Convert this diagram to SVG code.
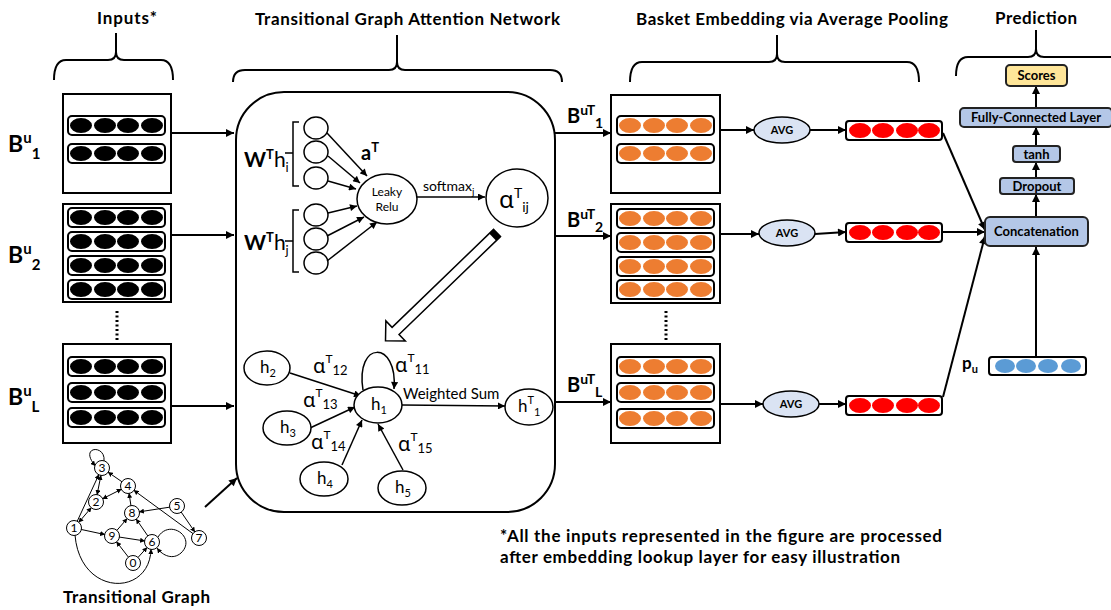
<svg xmlns="http://www.w3.org/2000/svg" xmlns:xlink="http://www.w3.org/1999/xlink" width="1111" height="610" viewBox="0 0 1111 610">
<style>
text{font-family:Lato,"Liberation Sans",sans-serif;fill:#000}
.ti{font-size:17px;font-weight:bold}
.b{font-weight:bold}
.gr{font-family:"Noto Sans","DejaVu Sans",sans-serif}
.ln{stroke:#000;stroke-width:2;fill:none}
.ln15{stroke:#000;stroke-width:1.5;fill:none}
.ln1{stroke:#000;stroke-width:1;fill:none}
.box{fill:#fff;stroke:#000;stroke-width:2}
.row{fill:#fff;stroke:#000;stroke-width:2}
.circ{fill:#fff;stroke:#000;stroke-width:1.5}
.gn{fill:#fff;stroke:#000;stroke-width:1}
.pb{fill:#B4C7E7;stroke:#222;stroke-width:2}
.avg{fill:#DAE3F3;stroke:#000;stroke-width:1.5}
.gt{font-size:12px;text-anchor:middle}
.pt{font-size:13px;font-weight:bold;text-anchor:middle}
</style>
<defs>
<marker id="ah" viewBox="0 0 10 10" refX="10" refY="5" markerWidth="9" markerHeight="8" orient="auto" markerUnits="userSpaceOnUse"><path d="M0,0 L10,5 L0,10 z"/></marker>
<marker id="am" viewBox="0 0 10 10" refX="10" refY="5" markerWidth="8" markerHeight="7" orient="auto" markerUnits="userSpaceOnUse"><path d="M0,0 L10,5 L0,10 z"/></marker>
<marker id="as" viewBox="0 0 10 10" refX="10" refY="5" markerWidth="5" markerHeight="5" orient="auto-start-reverse" markerUnits="userSpaceOnUse"><path d="M0,0 L10,5 L0,10 z"/></marker>
<g id="rowK"><rect class="row" x="0" y="0" width="97" height="19" rx="4"/><g fill="#000"><ellipse cx="13" cy="9.5" rx="11" ry="7.5"/><ellipse cx="37" cy="9.5" rx="11" ry="7.5"/><ellipse cx="60" cy="9.5" rx="11" ry="7.5"/><ellipse cx="84" cy="9.5" rx="11" ry="7.5"/></g></g>
<g id="rowO"><rect class="row" x="0" y="0" width="97" height="19" rx="4"/><g fill="#ED7D31"><ellipse cx="13" cy="9.5" rx="11" ry="7.5"/><ellipse cx="37" cy="9.5" rx="11" ry="7.5"/><ellipse cx="60" cy="9.5" rx="11" ry="7.5"/><ellipse cx="84" cy="9.5" rx="11" ry="7.5"/></g></g>
<g id="rowR"><rect class="row" x="0" y="0" width="96" height="19" rx="3"/><g fill="#FF0000"><ellipse cx="14" cy="9.5" rx="11" ry="7.5"/><ellipse cx="37" cy="9.5" rx="11" ry="7.5"/><ellipse cx="61" cy="9.5" rx="11" ry="7.5"/><ellipse cx="83" cy="9.5" rx="11" ry="7.5"/></g></g>
<g id="rowB"><rect class="row" x="0" y="0" width="97" height="18" rx="3"/><g fill="#5B9BD5"><ellipse cx="16" cy="9" rx="10" ry="7"/><ellipse cx="37" cy="9" rx="10" ry="7"/><ellipse cx="59" cy="9" rx="10" ry="7"/><ellipse cx="82" cy="9" rx="10" ry="7"/></g></g>
</defs>
<rect width="1111" height="610" fill="#fff"/>

<g id="titles">
<text class="ti" x="97" y="24" textLength="60">Inputs*</text>
<text class="ti" x="255" y="25" textLength="305">Transitional Graph Attention Network</text>
<text class="ti" x="636" y="25" textLength="312">Basket Embedding via Average Pooling</text>
<text class="ti" x="995" y="24" textLength="82">Prediction</text>
</g>

<g id="braces" class="ln">
<path d="M54,80 Q54,60 66,60 L108,60 Q116,60 116,52 L116,33 M116,52 Q116,60 124,60 L161,60 Q173,60 173,80"/>
<path d="M233,82 Q233,70 245,70 L389,70 Q397,70 397,62 L397,35 M397,62 Q397,70 405,70 L550,70 Q562,70 562,82"/>
<path d="M630,82 Q630,62 642,62 L769,62 Q777,62 777,54 L777,35 M777,54 Q777,62 785,62 L907,62 Q919,62 919,82"/>
<path d="M956,76 Q956,57 968,57 L1028,57 Q1036,57 1036,49 L1036,30 M1036,49 Q1036,57 1044,57 L1112,57"/>
</g>

<g id="input1">
<rect class="box" x="63" y="94" width="108" height="99"/>
<use xlink:href="#rowK" x="68" y="116"/><use xlink:href="#rowK" x="68" y="144"/>
<text class="b" x="8" y="152" font-size="23">B<tspan font-size="15" dy="-9">u</tspan><tspan font-size="15" dy="16">1</tspan></text>
</g>
<g id="input2">
<rect class="box" x="63" y="204" width="108" height="98"/>
<use xlink:href="#rowK" x="68" y="208"/><use xlink:href="#rowK" x="68" y="232"/><use xlink:href="#rowK" x="68" y="256"/><use xlink:href="#rowK" x="68" y="280"/>
<text class="b" x="8" y="263" font-size="23">B<tspan font-size="15" dy="-9">u</tspan><tspan font-size="15" dy="16">2</tspan></text>
</g>
<line x1="117" y1="311" x2="117" y2="340" stroke="#000" stroke-width="3" stroke-dasharray="2 2.5"/>
<g id="inputL">
<rect class="box" x="63" y="344" width="108" height="99"/>
<use xlink:href="#rowK" x="68" y="357"/><use xlink:href="#rowK" x="68" y="383"/><use xlink:href="#rowK" x="68" y="408"/>
<text class="b" x="8" y="405" font-size="23">B<tspan font-size="15" dy="-9">u</tspan><tspan font-size="15" dy="16">L</tspan></text>
</g>

<g id="transitional-graph">
<g class="ln1">
<path d="M101,475 L97,495" marker-start="url(#as)" marker-end="url(#as)"/>
<path d="M122.3,482 L107.8,472" marker-end="url(#as)"/>
<path d="M102.3,498.9 L121.7,489.1" marker-start="url(#as)" marker-end="url(#as)"/>
<path d="M77,521.7 L99,474.3" marker-end="url(#as)"/>
<path d="M78.5,522.6 L91.5,507.4" marker-start="url(#as)" marker-end="url(#as)"/>
<path d="M80.9,529.4 L105.1,534.6" marker-end="url(#as)"/>
<path d="M131,506.1 L129,492.9" marker-end="url(#as)"/>
<path d="M116.6,530.7 L127.4,518.3" marker-end="url(#as)"/>
<path d="M118.9,537 L145.1,541" marker-end="url(#as)"/>
<path d="M148,536.2 L136,518.8" marker-end="url(#as)"/>
<path d="M170.1,507.1 L138.9,511.9" marker-end="url(#as)"/>
<path d="M181,511.8 L195,532.2" marker-end="url(#as)"/>
<path d="M193.4,533.9 L133.6,490.1" marker-end="url(#as)"/>
<path d="M128.7,557.5 L116.3,541.5" marker-end="url(#as)"/>
<path d="M137.7,557.8 L147.3,547.2" marker-end="url(#as)"/>
<path d="M75,535 C80,597 150,597 151,549" marker-end="url(#as)"/>
<path d="M158,537 C170,518 197,538 181,553 C173,560 163,556 157,548" marker-end="url(#as)"/>
<path d="M104,461 C106,444 78,446 95.5,466" marker-end="url(#as)"/>
</g>
<g>
<circle class="gn" cx="102" cy="468" r="7.5"/><text class="gt" x="102" y="472">3</text>
<circle class="gn" cx="128" cy="486" r="7.5"/><text class="gt" x="128" y="490">4</text>
<circle class="gn" cx="96" cy="502" r="7.5"/><text class="gt" x="96" y="506">2</text>
<circle class="gn" cx="132" cy="513" r="7.5"/><text class="gt" x="132" y="517">8</text>
<circle class="gn" cx="177" cy="506" r="7.5"/><text class="gt" x="177" y="510">5</text>
<circle class="gn" cx="74" cy="528" r="7.5"/><text class="gt" x="74" y="532">1</text>
<circle class="gn" cx="112" cy="536" r="7.5"/><text class="gt" x="112" y="540">9</text>
<circle class="gn" cx="152" cy="542" r="7.5"/><text class="gt" x="152" y="546">6</text>
<circle class="gn" cx="199" cy="538" r="7.5"/><text class="gt" x="199" y="542">7</text>
<circle class="gn" cx="133" cy="563" r="7.5"/><text class="gt" x="133" y="567">0</text>
</g>
<text class="ti" x="63" y="603" textLength="147">Transitional Graph</text>
</g>

<g id="gat">
<rect class="box" x="236" y="92" width="319" height="420" rx="48"/>
<g class="circ">
<ellipse cx="316" cy="128" rx="12" ry="11"/><ellipse cx="316" cy="152" rx="12" ry="11"/><ellipse cx="316" cy="178" rx="12" ry="11"/>
<ellipse cx="316" cy="215" rx="12" ry="11"/><ellipse cx="316" cy="239" rx="12" ry="11"/><ellipse cx="316" cy="263" rx="12" ry="11"/>
</g>
<path class="ln15" d="M299,122 L293,122 L293,186 L299,186 M293,153 L285,153"/>
<path class="ln15" d="M299,210 L293,210 L293,272 L299,272 M293,241 L285,241"/>
<text x="244" y="167" font-size="21"><tspan class="b">W</tspan><tspan class="b" font-size="13" dy="-8">T</tspan><tspan dy="8">h</tspan><tspan font-size="13" dy="5">i</tspan></text>
<text x="244" y="250" font-size="21"><tspan class="b">W</tspan><tspan class="b" font-size="13" dy="-8">T</tspan><tspan dy="8">h</tspan><tspan font-size="13" dy="5">j</tspan></text>
<g class="ln15" marker-end="url(#am)">
<path d="M327,133 L367,176"/><path d="M328,156 L360,183"/><path d="M328,181 L356,189"/>
<path d="M328,213 L357,206"/><path d="M327,236 L364,217"/><path d="M327,261 L377,222"/>
</g>
<text class="b" x="361" y="160" font-size="20">a<tspan font-size="13" dy="-8">T</tspan></text>
<ellipse class="circ" cx="387" cy="199" rx="30" ry="25"/>
<text x="387" y="196" font-size="12" text-anchor="middle">Leaky</text>
<text x="387" y="211" font-size="12" text-anchor="middle">Relu</text>
<path class="ln15" d="M417,197 L485,197" marker-end="url(#am)"/>
<text x="423" y="191" font-size="14">softmax<tspan font-size="10" dy="4">j</tspan></text>
<ellipse class="circ" cx="517" cy="198" rx="31" ry="29"/>
<text x="499" y="208" font-size="24"><tspan class="gr">α</tspan><tspan font-size="14" dy="-10">T</tspan><tspan font-size="14" dy="14">ij</tspan></text>
<g transform="translate(497,233) rotate(136)">
<polygon points="0,-5 141,-5 141,-14 155,0 141,14 141,5 0,5" fill="#fff" stroke="#000" stroke-width="1.5"/>
<rect x="0" y="-5" width="6" height="10" fill="#000"/>
</g>
<g class="ln15" marker-end="url(#am)">
<path d="M290,373 L361,396"/>
<path d="M310,428 L355,407"/>
<path d="M342,465 L362,420"/>
<path d="M403,470 L378,424"/>
<path d="M363,390 C355,340 398,340 394,389"/>
<path d="M402,405 L505,406"/>
</g>
<g class="circ">
<ellipse cx="267" cy="368" rx="23" ry="17"/>
<ellipse cx="287" cy="428" rx="24" ry="17"/>
<ellipse cx="324" cy="479" rx="24" ry="17"/>
<ellipse cx="402" cy="488" rx="24" ry="17"/>
<ellipse cx="378" cy="405" rx="24" ry="18"/>
<ellipse cx="529" cy="407" rx="24" ry="18"/>
</g>
<g font-size="17">
<text x="260" y="373">h<tspan font-size="11" dy="4">2</tspan></text>
<text x="280" y="433">h<tspan font-size="11" dy="4">3</tspan></text>
<text x="317" y="484">h<tspan font-size="11" dy="4">4</tspan></text>
<text x="395" y="493">h<tspan font-size="11" dy="4">5</tspan></text>
<text x="371" y="410">h<tspan font-size="11" dy="4">1</tspan></text>
<text x="518" y="412">h<tspan font-size="11" dy="-8">T</tspan><tspan font-size="11" dy="12">1</tspan></text>
</g>
<g font-size="20">
<text x="313" y="373"><tspan class="gr">α</tspan><tspan font-size="12" dy="-10">T</tspan><tspan font-size="13" dy="12">12</tspan></text>
<text x="303" y="407"><tspan class="gr">α</tspan><tspan font-size="12" dy="-10">T</tspan><tspan font-size="13" dy="12">13</tspan></text>
<text x="311" y="449"><tspan class="gr">α</tspan><tspan font-size="12" dy="-10">T</tspan><tspan font-size="13" dy="12">14</tspan></text>
<text x="398" y="451"><tspan class="gr">α</tspan><tspan font-size="12" dy="-10">T</tspan><tspan font-size="13" dy="12">15</tspan></text>
<text x="395" y="372"><tspan class="gr">α</tspan><tspan font-size="12" dy="-10">T</tspan><tspan font-size="13" dy="12">11</tspan></text>
</g>
<text x="403" y="399" font-size="15">Weighted Sum</text>
</g>

<g id="connectors">
<g class="ln" marker-end="url(#ah)">
<path d="M171,133 L234,133"/>
<path d="M171,235 L234,235"/>
<path d="M171,406 L234,406"/>
<path d="M205,507 L237,478"/>
<path d="M555,133 L611,133"/>
<path d="M555,236 L611,236"/>
<path d="M555,402 L611,402"/>
<path d="M720,130 L754,130"/>
<path d="M720,234 L759,234"/>
<path d="M720,404 L763,404"/>
<path d="M810,130 L846,130"/>
<path d="M815,234 L846,232"/>
<path d="M819,404 L846,404"/>
<path d="M943,133 L985,230"/>
<path d="M942,232 L985,232"/>
<path d="M943,397 L985,236"/>
<path d="M1036,357 L1036,247"/>
<path d="M1036,217 L1036,194"/>
<path d="M1036,178 L1036,162"/>
<path d="M1036,146 L1036,127"/>
<path d="M1036,108 L1036,86"/>
</g>
</g>

<g id="basket1">
<rect class="box" x="611" y="95" width="109" height="98"/>
<use xlink:href="#rowO" x="617" y="116"/><use xlink:href="#rowO" x="617" y="144"/>
<text class="b" x="567" y="123" font-size="20">B<tspan font-size="14" dy="-8">uT</tspan><tspan font-size="14" dy="13">1</tspan></text>
</g>
<g id="basket2">
<rect class="box" x="611" y="204" width="109" height="99"/>
<use xlink:href="#rowO" x="617" y="209"/><use xlink:href="#rowO" x="617" y="233"/><use xlink:href="#rowO" x="617" y="257"/><use xlink:href="#rowO" x="617" y="280"/>
<text class="b" x="567" y="227" font-size="20">B<tspan font-size="14" dy="-8">uT</tspan><tspan font-size="14" dy="13">2</tspan></text>
</g>
<line x1="666" y1="311" x2="666" y2="340" stroke="#000" stroke-width="3" stroke-dasharray="2 2.5"/>
<g id="basketL">
<rect class="box" x="611" y="344" width="109" height="99"/>
<use xlink:href="#rowO" x="617" y="357"/><use xlink:href="#rowO" x="617" y="383"/><use xlink:href="#rowO" x="617" y="409"/>
<text class="b" x="567" y="392" font-size="20">B<tspan font-size="14" dy="-8">uT</tspan><tspan font-size="14" dy="13">L</tspan></text>
</g>

<g id="avg1"><ellipse class="avg" cx="782" cy="130" rx="28" ry="13"/><text class="b" x="782" y="134" font-size="11" text-anchor="middle">AVG</text></g>
<g id="avg2"><ellipse class="avg" cx="787" cy="233" rx="28" ry="13"/><text class="b" x="787" y="237" font-size="11" text-anchor="middle">AVG</text></g>
<g id="avgL"><ellipse class="avg" cx="791" cy="404" rx="28" ry="13"/><text class="b" x="791" y="408" font-size="11" text-anchor="middle">AVG</text></g>

<g id="pooled1"><use xlink:href="#rowR" x="846" y="121"/></g>
<g id="pooled2"><use xlink:href="#rowR" x="846" y="223"/></g>
<g id="pooledL"><use xlink:href="#rowR" x="846" y="396"/></g>

<g id="pu"><use xlink:href="#rowB" x="989" y="357"/><text class="b" x="962" y="369" font-size="17">p<tspan font-size="11" dy="4">u</tspan></text></g>

<g id="scores"><rect x="1006" y="65" width="61" height="21" rx="4" fill="#FFE699" stroke="#222" stroke-width="2"/><text class="pt" x="1036.5" y="80">Scores</text></g>
<g id="fc"><rect class="pb" x="960" y="108" width="152" height="19" rx="4"/><text class="pt" x="1036" y="122">Fully-Connected Layer</text></g>
<g id="tanh"><rect class="pb" x="1013" y="146" width="47" height="16" rx="3"/><text class="pt" x="1036.5" y="158.5">tanh</text></g>
<g id="dropout"><rect class="pb" x="1000" y="178" width="74" height="16" rx="3"/><text class="pt" x="1037" y="190.5">Dropout</text></g>
<g id="concat"><rect class="pb" x="985" y="217" width="103" height="29" rx="5"/><text class="pt" x="1036.5" y="236" font-size="14">Concatenation</text></g>

<g id="footnote">
<text class="ti" x="500" y="542" textLength="442">*All the inputs represented in the figure are processed</text>
<text class="ti" x="500" y="563" textLength="400">after embedding lookup layer for easy illustration</text>
</g>
</svg>
